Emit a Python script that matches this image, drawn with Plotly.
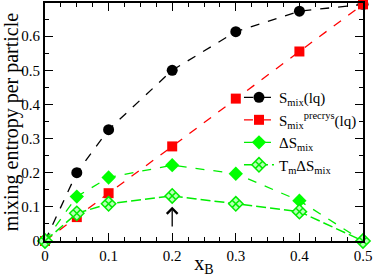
import plotly.graph_objects as go

x_vals = [0.0, 0.05, 0.1, 0.2, 0.3, 0.4, 0.5]
s_mix_lq = [0.0, 0.200, 0.326, 0.500, 0.613, 0.673, 0.693]
s_mix_precrys = [0.0, 0.070, 0.140, 0.277, 0.417, 0.555, 0.693]
delta_s_mix = [0.0, 0.130, 0.186, 0.222, 0.197, 0.118, 0.0]
tm_delta_s_mix = [0.0, 0.081, 0.109, 0.132, 0.109, 0.086, 0.0]

names = ["S<sub>mix</sub>(lq)", "S<sub>mix</sub><sup>precrys</sup>(lq)",
         "ΔS<sub>mix</sub>", "T<sub>m</sub>ΔS<sub>mix</sub>"]
x_ticks = [0, 0.1, 0.2, 0.3, 0.4, 0.5]
x_tick_text = ["0", "0.1", "0.2", "0.3", "0.4", "0.5"]
y_ticks = [0, 0.1, 0.2, 0.3, 0.4, 0.5, 0.6]
y_tick_text = ["0", "0.1", "0.2", "0.3", "0.4", "0.5", "0.6"]

font = "Liberation Serif, Times New Roman, DejaVu Serif, serif"
fig = go.Figure()
fig.add_trace(go.Scatter(x=x_vals, y=s_mix_lq, name=names[0], mode="lines+markers",
                         line=dict(color="black", dash="dash", width=1.3), cliponaxis=False,
                         marker=dict(symbol="circle", size=11, color="black")))
fig.add_trace(go.Scatter(x=x_vals, y=s_mix_precrys, name=names[1], mode="lines+markers",
                         line=dict(color="#ff0000", dash="dash", width=1.3), cliponaxis=False,
                         marker=dict(symbol="square", size=10, color="#ff0000")))
fig.add_trace(go.Scatter(x=x_vals, y=delta_s_mix, name=names[2], mode="lines+markers",
                         line=dict(color="#00ee00", dash="dash", width=1.3), cliponaxis=False,
                         marker=dict(symbol="diamond", size=11, color="#00ff00")))
fig.add_trace(go.Scatter(x=x_vals, y=tm_delta_s_mix, name=names[3], mode="lines+markers",
                         line=dict(color="#00ee00", dash="10px,4px", width=1.5), cliponaxis=False,
                         marker=dict(symbol="diamond-x", size=11, color="#b8ffb8",
                                     line=dict(color="#00ee00", width=1.5))))

fig.add_annotation(x=0.2, y=0.1, ax=0.2, ay=0.038, xref="x", yref="y", axref="x", ayref="y",
                   showarrow=True, arrowhead=4, arrowsize=1.6, arrowwidth=1.3,
                   arrowcolor="black", text="")

axis_common = dict(showline=True, linecolor="black", linewidth=2, mirror="allticks",
                   ticks="inside", ticklen=8, tickwidth=1.3, tickcolor="black",
                   showgrid=False, zeroline=False, automargin=False,
                   tickfont=dict(family=font, size=15, color="black"))
fig.update_xaxes(range=[0, 0.5], tickvals=x_ticks, ticktext=x_tick_text,
                 minor=dict(dtick=0.025, ticks="inside", ticklen=4, tickcolor="black", showgrid=False),
                 title=dict(text="x<sub>B</sub>", font=dict(family=font, size=20, color="black"), standoff=0),
                 **axis_common)
fig.update_yaxes(range=[0, 0.697], tickvals=y_ticks, ticktext=y_tick_text,
                 minor=dict(dtick=0.05, ticks="inside", ticklen=4, tickcolor="black", showgrid=False),
                 title=dict(text="mixing entropy per particle", font=dict(family=font, size=20, color="black"), standoff=0),
                 **axis_common)
fig.update_layout(width=374, height=277, margin=dict(l=45, r=11, t=3, b=36, autoexpand=False),
                  plot_bgcolor="white", paper_bgcolor="white",
                  legend=dict(x=0.61, y=0.672, xanchor="left", yanchor="top",
                              bgcolor="rgba(0,0,0,0)", font=dict(family=font, size=15, color="black"),
                              tracegroupgap=0, itemwidth=30),
                  showlegend=True)
fig.write_html("out.html", config={"displayModeBar": False},
               post_script="document.body.style.margin='0';document.body.style.overflow='hidden';")
